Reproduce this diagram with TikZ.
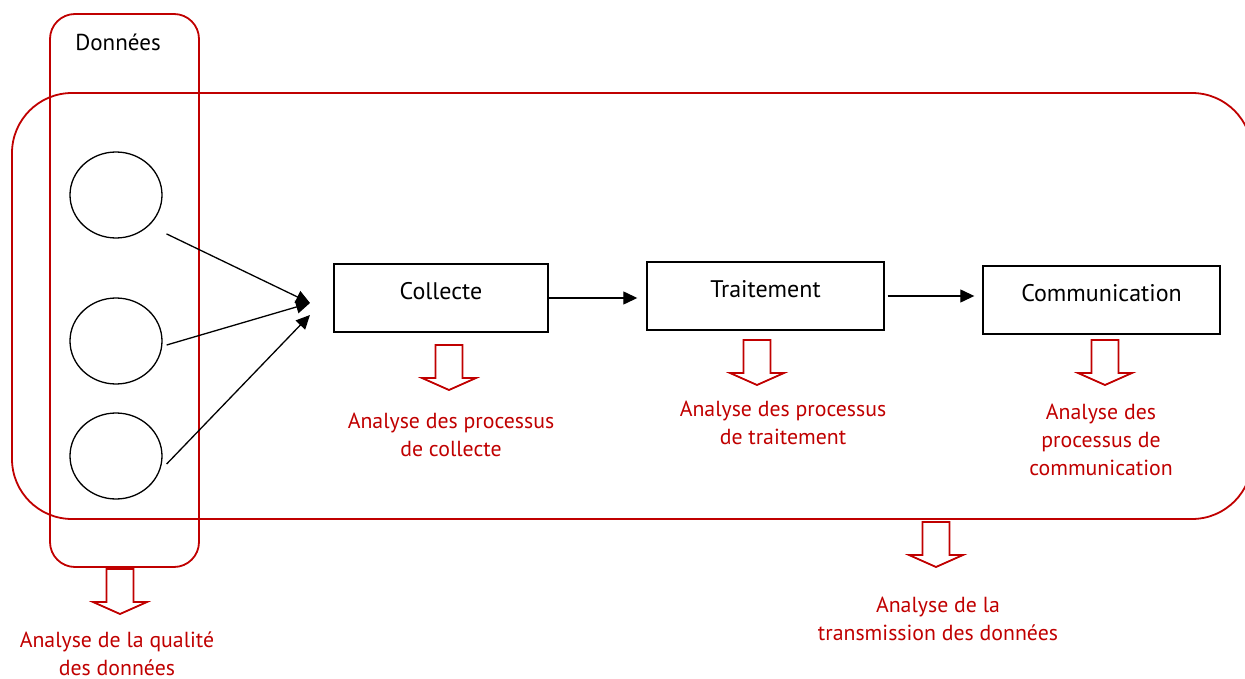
\documentclass[tikz,border=0pt]{standalone}
\usepackage{fontspec}
\setmainfont{PT Sans}
\usetikzlibrary{arrows.meta,shapes.geometric}
\definecolor{darkred}{RGB}{192,0,0}

\begin{document}
\begin{tikzpicture}[
      x=1pt,y=-1pt,
      font=\fontsize{23}{28}\selectfont,
      process/.style={draw,line width=1.4pt,minimum height=68pt,inner sep=0pt,
        text height=16pt,text depth=13pt,font=\fontsize{24}{28}\selectfont},
      data/.style={draw,ellipse,line width=1.3pt,minimum width=92pt,minimum height=86pt},
      flow/.style={-{Triangle[length=14pt,width=13pt]},line width=1.3pt},
      frame/.style={draw=darkred,line width=1.8pt},
      note/.style={text=darkred,align=center,font=\fontsize{21.8}{28}\selectfont},
      hollow/.pic={\draw[darkred,line width=1.8pt,line join=miter]
        (-13.5,0) -- (13.5,0) -- (13.5,33) -- (27,33) -- (0,45) -- (-27,33) -- (-13.5,33) -- cycle;},
      ]
    \useasboundingbox (0,0) rectangle (1245,679);

    % Frames
    \draw[frame,rounded corners=60pt] (12,93) rectangle (1252,519);
    \draw[frame,rounded corners=25pt] (50,14) rectangle (199,567);
    \node (donnees) at (118,42) {Données};

    % Data sources
    \node[data] (d1) at (116,195) {};
    \node[data] (d2) at (116,341) {};
    \node[data] (d3) at (116,456) {};
    \coordinate (hub) at (310,303);

    \draw[flow] ([shift={(17.5,8)}]d1.south east) -- (hub);
    \draw[flow] ([shift={(4,4)}]d2.east) -- (hub);
    \draw[flow] ([shift={(4,8)}]d3.east) -- ([shift={(0,12)}]hub);

    % Chain of processes
    \node[process,minimum width=214pt] (collecte) at (441,298) {Collecte};
    \node[process,minimum width=237pt] (traitement) at (765.5,296) {Traitement};
    \node[process,minimum width=237pt] (communication) at (1101.5,300) {Communication};

    \draw[flow,shorten >=9pt] (collecte.east) -- (collecte.east -| traitement.west);
    \draw[flow,shorten <=3pt,shorten >=8pt] (traitement.east) -- (traitement.east -| communication.west);

    % Analyses
    \pic (a1) at (449,345) {hollow};
    \pic (a2) at (757,340) {hollow};
    \pic (a3) at (1105,340) {hollow};
    \pic (a4) at (936,522) {hollow};
    \pic (a5) at (120,569) {hollow};

    \node[note] (n1) at (451,435) {Analyse des processus\\de collecte};
    \node[note] (n2) at (783,423) {Analyse des processus\\de traitement};
    \node[note] (n3) at (1101,440) {Analyse des\\processus de\\communication};
    \node[note] (n4) at (938,619) {Analyse de la\\transmission des données};
    \node[note] (n5) at (117,654) {Analyse de la qualité\\des données};

  \end{tikzpicture}
\end{document}
